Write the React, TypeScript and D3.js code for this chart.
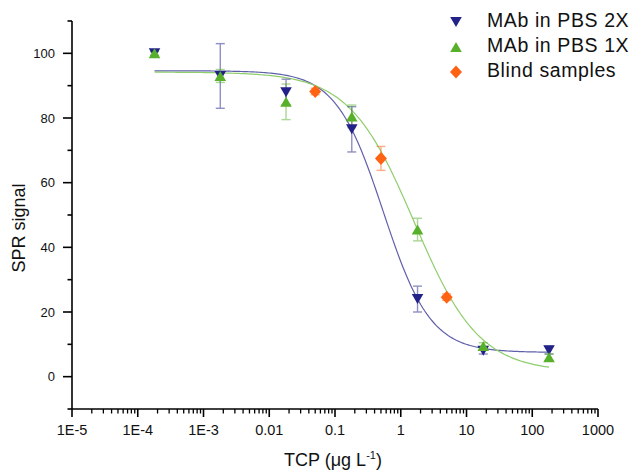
import React from "react";
import * as d3 from "d3";

// ---- data ----
const concentrations = [1.8e-4, 1.8e-3, 0.018, 0.18, 1.8, 18, 180];
const pbs2xValues = [100, 93, 88, 76.5, 24, 8, 8.2];
const pbs2xErrors = [0.8, 10, 4, 7, 4, 1, 1.2];
const pbs1xValues = [100, 93, 85, 80.5, 45.5, 9.5, 6];
const pbs1xErrors = [0.5, 2, 5.5, 3.5, 3.5, 1, 1];
const blindConcentrations = [0.05, 0.5, 5];
const blindValues = [88.2, 67.5, 24.6];
const blindErrors = [1, 3.7, 1];
// 4-parameter logistic fit parameters [top, bottom, x0, hill]
const fit2x = [94.6, 7.5, 0.542, 1.21];
const fit1x = [94.2, 1.5, 1.6, 0.88];
const xTickValues = [1e-5, 1e-4, 1e-3, 0.01, 0.1, 1, 10, 100, 1000];
const xTickLabels = ["1E-5", "1E-4", "1E-3", "0.01", "0.1", "1", "10", "100", "1000"];
const yTickValues = [0, 20, 40, 60, 80, 100];
const legendLabels = ["MAb in PBS 2X", "MAb in PBS 1X", "Blind samples"];

const W = 634;
const H = 473;
const FONT = "'Liberation Sans', Arial, Helvetica, sans-serif";
const C_BLUE = "#222288";
const C_GREEN = "#58b02a";
const C_ORANGE = "#ff6212";

const x = d3.scaleLog().domain([1e-5, 1000]).range([72, 598]);
const y = d3.scaleLinear().domain([-10, 110]).range([409, 21]);

function logistic(p: number[], v: number) {
  const [top, bottom, x0, hill] = p;
  return bottom + (top - bottom) / (1 + Math.pow(v / x0, hill));
}

function curvePath(p: number[]) {
  const lo = Math.log10(concentrations[0]);
  const hi = Math.log10(concentrations[concentrations.length - 1]);
  const pts: [number, number][] = d3.range(0, 201).map((i) => {
    const v = Math.pow(10, lo + ((hi - lo) * i) / 200);
    return [x(v), y(logistic(p, v))];
  });
  return d3.line()(pts) || "";
}

function triPath(cx: number, cy: number, down: boolean) {
  const hw = 5.8;
  const hh = 5;
  if (down) return `M${cx - hw},${cy - hh}L${cx + hw},${cy - hh}L${cx},${cy + hh}Z`;
  return `M${cx - hw},${cy + hh}L${cx + hw},${cy + hh}L${cx},${cy - hh}Z`;
}
function diamondPath(cx: number, cy: number) {
  const hw = 6;
  const hh = 6.5;
  return `M${cx},${cy - hh}L${cx + hw},${cy}L${cx},${cy + hh}L${cx - hw},${cy}Z`;
}

function ErrorBars({ xs, ys, es, color }: { xs: number[]; ys: number[]; es: number[]; color: string }) {
  return (
    <g stroke={color} strokeWidth={1.4} fill="none" opacity={0.5}>
      {xs.map((xv, i) => {
        const cx = x(xv);
        const t = y(ys[i] + es[i]);
        const b = y(ys[i] - es[i]);
        return (
          <g key={i}>
            <line x1={cx} x2={cx} y1={t} y2={b} />
            <line x1={cx - 4.5} x2={cx + 4.5} y1={t} y2={t} />
            <line x1={cx - 4.5} x2={cx + 4.5} y1={b} y2={b} />
          </g>
        );
      })}
    </g>
  );
}

export default function App() {
  const minorX: number[] = [];
  for (let e = -5; e < 3; e++) {
    for (let k = 2; k <= 9; k++) minorX.push(k * Math.pow(10, e));
  }
  const minorY = [-10, 10, 30, 50, 70, 90, 110];

  return (
    <svg width={W} height={H} style={{ position: "absolute", left: 0, top: 0, background: "#fff" }} fontFamily={FONT}>
      <rect width={W} height={H} fill="#fff" />
      {/* fit curves */}
      <path d={curvePath(fit2x)} fill="none" stroke="#6060aa" strokeWidth={1.2} />
      <path d={curvePath(fit1x)} fill="none" stroke="#8fce6c" strokeWidth={1.2} />

      {/* error bars */}
      <ErrorBars xs={concentrations} ys={pbs2xValues} es={pbs2xErrors} color={C_BLUE} />
      <ErrorBars xs={concentrations} ys={pbs1xValues} es={pbs1xErrors} color={C_GREEN} />
      <ErrorBars xs={blindConcentrations} ys={blindValues} es={blindErrors} color={C_ORANGE} />

      {/* markers */}
      {concentrations.map((c, i) => (
        <path key={"b" + i} d={triPath(x(c), y(pbs2xValues[i]), true)} fill={C_BLUE} />
      ))}
      {concentrations.map((c, i) => (
        <path key={"g" + i} d={triPath(x(c), y(pbs1xValues[i]), false)} fill={C_GREEN} />
      ))}
      {blindConcentrations.map((c, i) => (
        <path key={"o" + i} d={diamondPath(x(c), y(blindValues[i]))} fill={C_ORANGE} />
      ))}

      {/* axes */}
      <g stroke="#000" strokeWidth={1.6} fill="none">
        <line x1={72} x2={72} y1={y(110)} y2={y(-10)} />
        <line x1={72} x2={598} y1={409} y2={409} />
        {yTickValues.map((v) => (
          <line key={"yt" + v} x1={63} x2={72} y1={y(v)} y2={y(v)} />
        ))}
        {minorY.map((v) => (
          <line key={"ym" + v} x1={67.5} x2={72} y1={y(v)} y2={y(v)} />
        ))}
        {xTickValues.map((v) => (
          <line key={"xt" + v} x1={x(v)} x2={x(v)} y1={409} y2={417} />
        ))}
        {minorX.map((v, i) => (
          <line key={"xm" + i} x1={x(v)} x2={x(v)} y1={409} y2={413.5} strokeWidth={1.3} />
        ))}
      </g>
      <g fontSize={13} fill="#111" textAnchor="end">
        {yTickValues.map((v) => (
          <text key={"yl" + v} x={55} y={y(v) + 4.7}>
            {v}
          </text>
        ))}
      </g>
      <g fontSize={14.5} fill="#111" textAnchor="middle">
        {xTickValues.map((v, i) => (
          <text key={"xl" + v} x={x(v)} y={435}>
            {xTickLabels[i]}
          </text>
        ))}
      </g>

      {/* axis titles */}
      <text transform="translate(25,228) rotate(-90)" textAnchor="middle" fontSize={18} fill="#111">
        SPR signal
      </text>
      <text x={333} y={466} textAnchor="middle" fontSize={18} fill="#111">
        TCP (μg L<tspan fontSize={11} dy={-7}>-1</tspan>
        <tspan dy={7}>)</tspan>
      </text>

      {/* legend */}
      <g fontSize={19.5} fill="#111" letterSpacing={0.6}>
        {legendLabels.map((lab, i) => {
          const base = 27 + i * 25;
          const cy = base - 5;
          const marker =
            i === 0 ? (
              <path d={triPath(456, cy, true)} fill={C_BLUE} />
            ) : i === 1 ? (
              <path d={triPath(456, cy, false)} fill={C_GREEN} />
            ) : (
              <path d={diamondPath(456, cy)} fill={C_ORANGE} />
            );
          return (
            <g key={lab}>
              {marker}
              <text x={487} y={base}>
                {lab}
              </text>
            </g>
          );
        })}
      </g>
    </svg>
  );
}
